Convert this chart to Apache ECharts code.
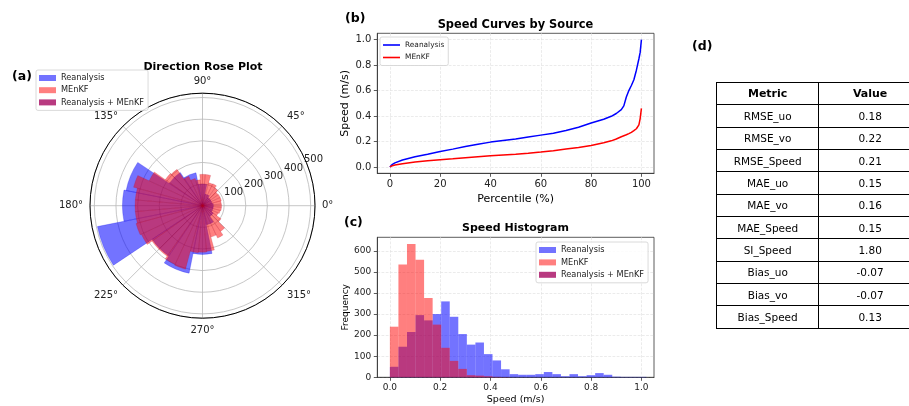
<!DOCTYPE html>
<html>
<head>
<meta charset="utf-8">
<title>Direction rose, speed curves, histogram, metrics</title>
<script src="https://cdn.jsdelivr.net/npm/echarts@6/dist/echarts.min.js"></script>
<style>
html,body{margin:0;padding:0;background:#fff;overflow:hidden;}
#chart{position:absolute;left:0;top:0;width:909px;height:406px;}
#tbl{position:absolute;left:716px;top:82px;width:205px;border-collapse:collapse;font-family:"DejaVu Sans";font-size:10.5px;color:#000;table-layout:fixed;}
#tbl td,#tbl th{border:1px solid #000;padding:0;text-align:center;}
#tbl tr{height:22.35px;}
#tbl th{font-weight:bold;font-size:11px;}
</style>
</head>
<body>
<div id="chart"></div>
<table id="tbl"><colgroup><col style="width:102.3px"><col style="width:102.7px"></colgroup><tbody id="tbody"></tbody></table>
<script>
// ---------- data ----------
// (a) direction rose, counts per direction bin
var ROSE_BLUE_DIRS = ['0', '22.5', '45', '67.5', '90', '112.5', '135', '157.5',
                      '180', '202.5', '225', '247.5', '270', '292.5', '315', '337.5'];
var ROSE_BLUE = [50, 45, 45, 55, 100, 155, 185, 360, 370, 495, 280, 318, 225, 90, 60, 50];
var ROSE_RED_DIRS = ['0', '10', '20', '30', '40', '50', '60', '70', '80', '90', '100', '110',
                     '120', '130', '140', '150', '160', '170', '180', '190', '200', '210', '220', '230',
                     '240', '250', '260', '270', '280', '290', '300', '310', '320', '330', '340', '350'];
var ROSE_RED = [88, 87, 90, 90, 88, 100, 112, 110, 145, 145, 120, 130,
                150, 205, 210, 272, 330, 312, 312, 312, 318, 312, 285, 285,
                300, 304, 218, 215, 212, 150, 165, 145, 105, 80, 85, 88];

// (b) speed curves: percentile -> speed
var PCT = [0, 1, 2, 5, 10, 15, 20, 25, 30, 35, 40, 45, 50, 55, 60, 65, 70, 75, 80, 85,
           88, 90, 92, 93, 94, 95, 96, 97, 98, 99, 99.5, 100];
var SPEED_REAN = [0.0, 0.02, 0.032, 0.055, 0.08, 0.1, 0.122, 0.14, 0.16, 0.178, 0.195, 0.208,
                  0.22, 0.235, 0.25, 0.265, 0.287, 0.312, 0.345, 0.375, 0.398, 0.42, 0.45, 0.48,
                  0.55, 0.6, 0.64, 0.685, 0.76, 0.85, 0.9, 1.0];
var SPEED_MENKF = [0.0, 0.01, 0.015, 0.025, 0.038, 0.048, 0.057, 0.064, 0.072, 0.08, 0.087, 0.094,
                   0.1, 0.108, 0.117, 0.127, 0.14, 0.153, 0.168, 0.19, 0.205, 0.22, 0.237, 0.245,
                   0.253, 0.262, 0.272, 0.285, 0.3, 0.33, 0.38, 0.46];
var PCT_TICKS = [0, 20, 40, 60, 80, 100];
var SPEED_TICKS = [0, 0.2, 0.4, 0.6, 0.8, 1.0];

// (c) speed histogram, 30 bins of 0.034 m/s
var HIST_BIN = 0.034;
var HIST_REAN = [50, 145, 215, 295, 270, 300, 360, 287, 205, 155, 165, 110, 80, 38, 15,
                 12, 12, 15, 25, 15, 5, 15, 5, 10, 20, 12, 3, 2, 2, 2];
var HIST_MENKF = [240, 535, 632, 558, 376, 250, 140, 78, 40, 10, 8, 5, 2, 1, 0,
                  0, 0, 0, 0, 0, 0, 0, 0, 0, 0, 0, 0, 0, 0, 0];
var FREQ_TICKS = [0, 100, 200, 300, 400, 500, 600];

// (d) metrics table
var METRIC_NAMES = ['RMSE_uo', 'RMSE_vo', 'RMSE_Speed', 'MAE_uo', 'MAE_vo', 'MAE_Speed',
                    'SI_Speed', 'Bias_uo', 'Bias_vo', 'Bias_Speed'];
var METRIC_VALUES = ['0.18', '0.22', '0.21', '0.15', '0.16', '0.15', '1.80', '-0.07', '-0.07', '0.13'];

// ---------- table ----------
(function(){
    var html = '<tr><th>Metric</th><th>Value</th></tr>';
    for (var i = 0; i < METRIC_NAMES.length; i++) {
        html += '<tr><td>' + METRIC_NAMES[i] + '</td><td>' + METRIC_VALUES[i] + '</td></tr>';
    }
    document.getElementById('tbody').innerHTML = html;
})();

// ---------- chart ----------
(function(){
    var FONT = '"DejaVu Sans"';
    var BLUE_FILL = 'rgba(0,0,255,0.55)';
    var RED_FILL = 'rgba(255,0,0,0.5)';
    var MIX_FILL = '#b83a80';
    var CX = 202.5, CY = 205.7, R = 112.5, RMAX = 520;

    var myChart = echarts.init(document.getElementById('chart'));

    function histData(counts) {
        return counts.map(function (c, i) {
            return [i * HIST_BIN, (i + 1) * HIST_BIN, c];
        });
    }
    function histItem(params, api) {
        var a = api.coord([api.value(0), api.value(2)]);
        var b = api.coord([api.value(1), 0]);
        return {
            type: 'rect',
            shape: {x: a[0], y: a[1], width: b[0] - a[0], height: b[1] - a[1]},
            style: {fill: api.visual('color')}
        };
    }
    function pairs(xs, ys) {
        return xs.map(function (x, i) { return [x, ys[i]]; });
    }

    // cartesian axis style shared by (b) and (c)
    function valueAxis(extra) {
        var base = {
            type: 'value',
            axisLine: {show: true, onZero: false, lineStyle: {color: '#333', width: 0.8}},
            axisTick: {show: true, length: 3.5, lineStyle: {color: '#333', width: 0.8}},
            axisLabel: {fontFamily: FONT, color: '#222', margin: 6},
            splitLine: {show: true, lineStyle: {type: 'dashed', color: '#e2e2e2', width: 0.7}},
            nameLocation: 'middle',
            nameTextStyle: {fontFamily: FONT, color: '#000'}
        };
        return echarts.util.merge(base, extra, true);
    }

    var legendBox = {
        orient: 'vertical',
        backgroundColor: 'rgba(255,255,255,0.85)',
        borderColor: '#d0d0d0',
        borderWidth: 0.8,
        borderRadius: 2,
        selectedMode: false
    };

    var option = {
        animation: false,
        textStyle: {fontFamily: FONT},
        polar: [
            {center: [CX, CY], radius: R},              // grid and angle labels
            {center: [CX, CY], radius: [12, R + 12]},   // radial labels
            {center: [CX, CY], radius: R},              // reanalysis bins
            {center: [CX, CY], radius: R}               // MEnKF bins
        ],
        angleAxis: [
            {
                polarIndex: 0, type: 'value', min: 0, max: 360, interval: 45,
                startAngle: 0, clockwise: false,
                axisLine: {lineStyle: {color: '#000', width: 1}},
                axisTick: {show: false},
                axisLabel: {formatter: '{value}°', fontSize: 10, color: '#222', margin: 7},
                splitLine: {show: true, lineStyle: {color: '#b8b8b8', width: 0.8}}
            },
            {polarIndex: 1, type: 'value', min: 0, max: 360, startAngle: 22.5, clockwise: false, show: false},
            {polarIndex: 2, type: 'category', data: ROSE_BLUE_DIRS, startAngle: 348.75, clockwise: false, show: false},
            {polarIndex: 3, type: 'category', data: ROSE_RED_DIRS, startAngle: 355, clockwise: false, show: false}
        ],
        radiusAxis: [
            {
                polarIndex: 0, type: 'value', min: 0, max: RMAX, interval: 100,
                axisLine: {show: false}, axisTick: {show: false}, axisLabel: {show: false},
                splitLine: {show: true, lineStyle: {color: '#b8b8b8', width: 0.8}}
            },
            {
                polarIndex: 1, type: 'value', min: 0, max: RMAX, interval: 100,
                axisLine: {show: false}, axisTick: {show: false}, splitLine: {show: false},
                axisLabel: {fontSize: 10, color: '#222', margin: 0, showMinLabel: false, showMaxLabel: false,
                            align: 'center', verticalAlign: 'middle', rotate: 0}
            },
            {polarIndex: 2, type: 'value', min: 0, max: RMAX, show: false},
            {polarIndex: 3, type: 'value', min: 0, max: RMAX, show: false}
        ],
        grid: [
            {left: 377.3, right: 255, top: 33.3, bottom: 232.7, show: true, borderColor: '#333', borderWidth: 0.8},
            {left: 377.3, right: 255, top: 237.3, bottom: 28.7, show: true, borderColor: '#333', borderWidth: 0.8}
        ],
        xAxis: [
            valueAxis({
                gridIndex: 0, min: -5, max: 105,
                axisTick: {customValues: PCT_TICKS},
                axisLabel: {customValues: PCT_TICKS, fontSize: 10},
                name: 'Percentile (%)', nameGap: 20, nameTextStyle: {fontSize: 11}
            }),
            valueAxis({
                gridIndex: 1, min: -0.05, max: 1.05,
                axisTick: {customValues: SPEED_TICKS},
                axisLabel: {customValues: SPEED_TICKS, fontSize: 9,
                            formatter: function (v) { return v.toFixed(1); }},
                name: 'Speed (m/s)', nameGap: 17, nameTextStyle: {fontSize: 9.5}
            })
        ],
        yAxis: [
            valueAxis({
                gridIndex: 0, min: -0.05, max: 1.05,
                axisTick: {customValues: SPEED_TICKS},
                axisLabel: {customValues: SPEED_TICKS, fontSize: 10,
                            formatter: function (v) { return v.toFixed(1); }},
                name: 'Speed (m/s)', nameGap: 27, nameTextStyle: {fontSize: 11}
            }),
            valueAxis({
                gridIndex: 1, min: 0, max: 664,
                axisTick: {customValues: FREQ_TICKS},
                axisLabel: {customValues: FREQ_TICKS, fontSize: 9},
                name: 'Frequency', nameGap: 26, nameTextStyle: {fontSize: 9}
            })
        ],
        legend: [
            echarts.util.extend({
                left: 36, top: 70, padding: [3, 4, 3, 3], itemGap: 2.2,
                itemWidth: 17, itemHeight: 6,
                textStyle: {fontSize: 8.2, color: '#222', lineHeight: 10},
                data: [
                    {name: 'Reanalysis', icon: 'rect', itemStyle: {color: BLUE_FILL, borderWidth: 0}},
                    {name: 'MEnKF', icon: 'rect', itemStyle: {color: RED_FILL, borderWidth: 0}},
                    {name: 'Reanalysis + MEnKF', icon: 'rect', itemStyle: {color: MIX_FILL, borderWidth: 0}}
                ]
            }, legendBox),
            echarts.util.extend({
                left: 380, top: 37, padding: [3, 4, 3, 3], itemGap: 2.5,
                itemWidth: 17, itemHeight: 1.6,
                textStyle: {fontSize: 7.4, color: '#222', lineHeight: 10},
                data: [
                    {name: 'Reanalysis', icon: 'rect', itemStyle: {color: '#0000ff', borderWidth: 0}},
                    {name: 'MEnKF', icon: 'rect', itemStyle: {color: '#ff0000', borderWidth: 0}}
                ]
            }, legendBox),
            echarts.util.extend({
                left: 536, top: 242, padding: [3, 4, 3, 3], itemGap: 2.4,
                itemWidth: 17, itemHeight: 6,
                textStyle: {fontSize: 8.2, color: '#222', lineHeight: 10},
                data: [
                    {name: 'Reanalysis', icon: 'rect', itemStyle: {color: BLUE_FILL, borderWidth: 0}},
                    {name: 'MEnKF', icon: 'rect', itemStyle: {color: RED_FILL, borderWidth: 0}},
                    {name: 'Reanalysis + MEnKF', icon: 'rect', itemStyle: {color: MIX_FILL, borderWidth: 0}}
                ]
            }, legendBox)
        ],
        graphic: [
            {type: 'text', x: 12, y: 77, z: -1, style: {text: '(a)', font: 'bold 12.5px ' + FONT, fill: '#000', verticalAlign: 'middle'}},
            {type: 'text', x: 203, y: 67.5, z: -1, style: {text: 'Direction Rose Plot', font: 'bold 11px ' + FONT, fill: '#000', align: 'center', verticalAlign: 'middle'}},
            {type: 'text', x: 345, y: 19, style: {text: '(b)', font: 'bold 12.5px ' + FONT, fill: '#000', verticalAlign: 'middle'}},
            {type: 'text', x: 515.5, y: 25, style: {text: 'Speed Curves by Source', font: 'bold 11.4px ' + FONT, fill: '#000', align: 'center', verticalAlign: 'middle'}},
            {type: 'text', x: 344, y: 223, style: {text: '(c)', font: 'bold 12.5px ' + FONT, fill: '#000', verticalAlign: 'middle'}},
            {type: 'text', x: 515.5, y: 228.5, style: {text: 'Speed Histogram', font: 'bold 11px ' + FONT, fill: '#000', align: 'center', verticalAlign: 'middle'}},
            {type: 'text', x: 692, y: 47, style: {text: '(d)', font: 'bold 12.5px ' + FONT, fill: '#000', verticalAlign: 'middle'}}
        ],
        series: [
            // (a) rose
            {
                name: 'Reanalysis', type: 'bar', coordinateSystem: 'polar', polarIndex: 2,
                data: ROSE_BLUE, barCategoryGap: '0%',
                itemStyle: {color: BLUE_FILL, borderColor: 'rgba(0,0,230,0.5)', borderWidth: 0.5}
            },
            {
                name: 'MEnKF', type: 'bar', coordinateSystem: 'polar', polarIndex: 3,
                data: ROSE_RED, barCategoryGap: '0%',
                itemStyle: {color: RED_FILL, borderColor: 'rgba(170,0,40,0.35)', borderWidth: 0.5}
            },
            // (b) speed curves
            {
                name: 'Reanalysis', type: 'line', xAxisIndex: 0, yAxisIndex: 0,
                data: pairs(PCT, SPEED_REAN), showSymbol: false, color: '#0000ff',
                lineStyle: {width: 1.5}
            },
            {
                name: 'MEnKF', type: 'line', xAxisIndex: 0, yAxisIndex: 0,
                data: pairs(PCT, SPEED_MENKF), showSymbol: false, color: '#ff0000',
                lineStyle: {width: 1.5}
            },
            // (c) histogram
            {
                name: 'Reanalysis', type: 'custom', xAxisIndex: 1, yAxisIndex: 1,
                data: histData(HIST_REAN), encode: {x: [0, 1], y: 2},
                renderItem: histItem, itemStyle: {color: BLUE_FILL}
            },
            {
                name: 'MEnKF', type: 'custom', xAxisIndex: 1, yAxisIndex: 1,
                data: histData(HIST_MENKF), encode: {x: [0, 1], y: 2},
                renderItem: histItem, itemStyle: {color: RED_FILL}
            },
            {
                name: 'Reanalysis + MEnKF', type: 'bar', xAxisIndex: 1, yAxisIndex: 1,
                data: [], itemStyle: {color: MIX_FILL}
            }
        ]
    };
    myChart.setOption(option);
    window.addEventListener('resize', function () {
        myChart.resize();
    });
})();
</script>
</body>
</html>
